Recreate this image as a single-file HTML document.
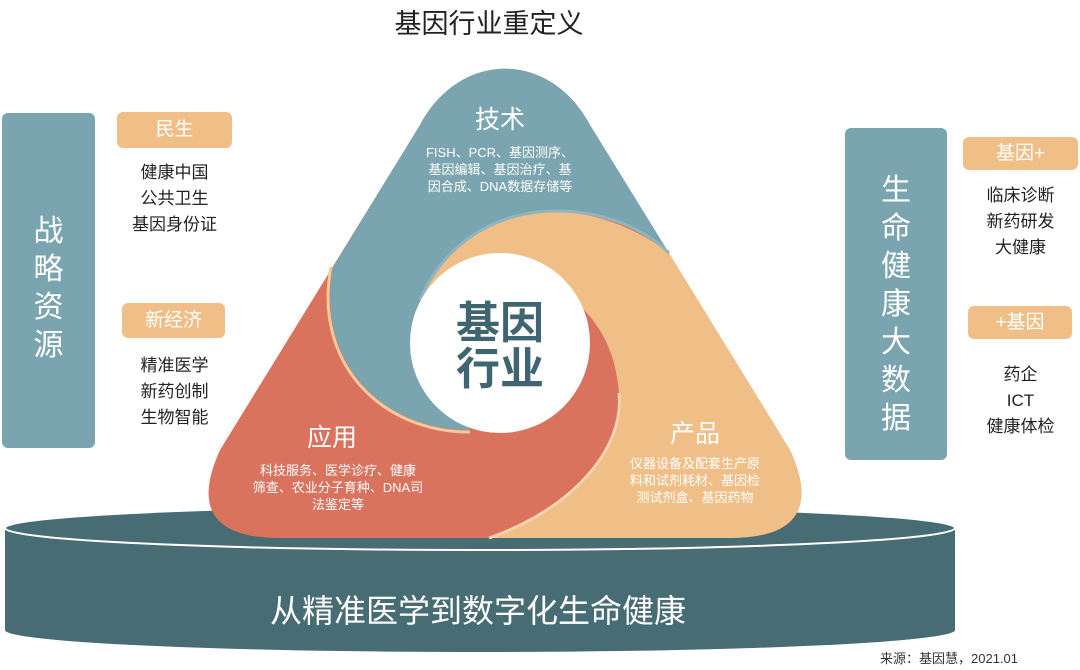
<!DOCTYPE html>
<html><head><meta charset="utf-8"><style>
body{margin:0;width:1080px;height:670px;background:#fff;overflow:hidden;position:relative;font-family:"Liberation Sans","Noto Sans CJK SC",sans-serif}
.a{position:absolute}
.blue{background:#7aa5b0;border-radius:6px}
.tag{background:#f0bf88;border-radius:6px;color:#fff;font-size:19px;text-align:center}
.lst{font-size:17px;line-height:26px;color:#222;text-align:center}
.vt{color:#fff;font-size:30px;line-height:38px;text-align:center}
</style></head><body>
<div class="a" style="left:0;top:2px;width:978px;text-align:center;font-size:27px;color:#222">基因行业重定义</div>

<svg class="a" style="left:0;top:0" width="1080" height="670">
  <path d="M5,530 L5,630 A475,22 0 0 0 955,630 L955,530 Z" fill="#476c74"/>
  <ellipse cx="480" cy="528" rx="475" ry="22" fill="#476c74" stroke="#fff" stroke-width="2"/>
  <path d="M420,125 C460,50 550,50 590,125 L790,450 Q830,538 730,538 L280,538 Q180,538 220,450 Z" fill="#da735d"/>
  <path d="M412,330 C420,220 560,170 669,253 L790,450 Q830,538 730,538 L489,538 C570,510 625,450 619,393 C615,340 590,310 560,290 Z" fill="#f0bf88"/>
  <path d="M619,393 C625,450 570,510 489,538" fill="none" stroke="#f6d2ae" stroke-width="3"/>
  <path d="M333,267 L420,125 C460,50 550,50 590,125 L669,253 C610,195 470,185 420,300 L470,430 C380,430 315,360 333,267 Z" fill="#7aa5b0"/>
  <path d="M470,432 C380,432 313,362 331,267" fill="none" stroke="#f6c99a" stroke-width="3"/>
  <path d="M669,253 C610,195 470,185 420,300" fill="none" stroke="#8fb5be" stroke-width="3"/>
  <circle cx="500" cy="343" r="90" fill="#fff"/>
  <text x="500" y="338" text-anchor="middle" font-size="44" font-weight="bold" fill="#3f6670" font-family="Liberation Sans,Noto Sans CJK SC,sans-serif">基因</text>
  <text x="500" y="384" text-anchor="middle" font-size="44" font-weight="bold" fill="#3f6670" font-family="Liberation Sans,Noto Sans CJK SC,sans-serif">行业</text>
  <g fill="#fff" text-anchor="middle" font-family="Liberation Sans,Noto Sans CJK SC,sans-serif">
    <text x="500" y="128" font-size="25">技术</text>
    <text x="500" y="157" font-size="13">FISH、PCR、基因测序、</text>
    <text x="500" y="174" font-size="13">基因编辑、基因治疗、基</text>
    <text x="500" y="191" font-size="13">因合成、DNA数据存储等</text>
    <text x="332" y="446" font-size="25">应用</text>
    <text x="338" y="475" font-size="13">科技服务、医学诊疗、健康</text>
    <text x="338" y="492" font-size="13">筛查、农业分子育种、DNA司</text>
    <text x="338" y="509" font-size="13">法鉴定等</text>
    <text x="695" y="442" font-size="25">产品</text>
    <text x="695" y="468" font-size="13">仪器设备及配套生产原</text>
    <text x="695" y="485" font-size="13">料和试剂耗材、基因检</text>
    <text x="695" y="502" font-size="13">测试剂盒、基因药物</text>
    <text x="478" y="622" font-size="32">从精准医学到数字化生命健康</text>
  </g>
</svg>

<div class="a blue" style="left:2px;top:113px;width:93px;height:335px"></div>
<div class="a vt" style="left:2px;top:213px;width:93px">战<br>略<br>资<br>源</div>
<div class="a tag" style="left:117px;top:112px;width:115px;height:36px;line-height:36px">民生</div>
<div class="a lst" style="left:117px;top:160px;width:115px">健康中国<br>公共卫生<br>基因身份证</div>
<div class="a tag" style="left:122px;top:303px;width:103px;height:35px;line-height:35px">新经济</div>
<div class="a lst" style="left:117px;top:353px;width:115px">精准医学<br>新药创制<br>生物智能</div>

<div class="a blue" style="left:845px;top:128px;width:102px;height:332px"></div>
<div class="a vt" style="left:845px;top:172px;width:102px">生<br>命<br>健<br>康<br>大<br>数<br>据</div>
<div class="a tag" style="left:963px;top:137px;width:115px;height:33px;line-height:33px">基因+</div>
<div class="a lst" style="left:963px;top:183px;width:115px">临床诊断<br>新药研发<br>大健康</div>
<div class="a tag" style="left:968px;top:306px;width:104px;height:33px;line-height:33px">+基因</div>
<div class="a lst" style="left:963px;top:362px;width:115px">药企<br>ICT<br>健康体检</div>

<div class="a" style="left:880px;top:648px;width:170px;font-size:13px;color:#333">来源：基因慧，2021.01</div>
</body></html>
